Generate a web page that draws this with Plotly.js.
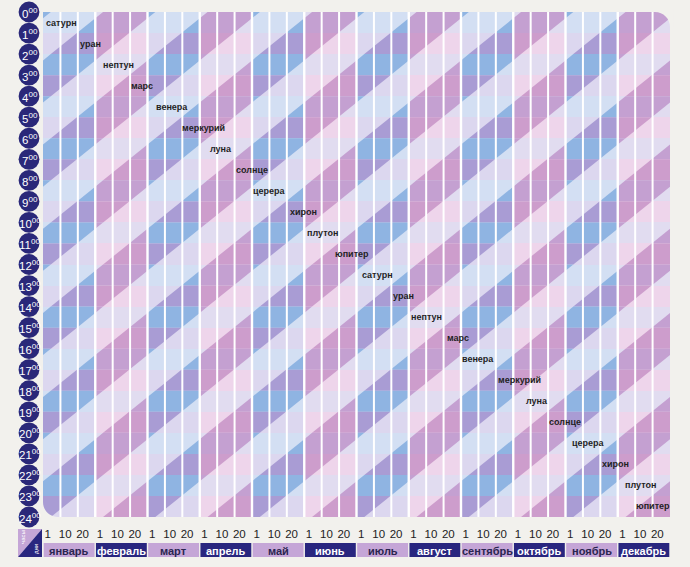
<!DOCTYPE html>
<html><head><meta charset="utf-8">
<script src="https://cdn.plot.ly/plotly-3.0.1.min.js"></script>
<style>html,body{margin:0;padding:0;background:#f2f1ed;}#chart{width:690px;height:567px;}</style>
</head><body><div id="chart"></div>
<script>
// ---- data ----
const months = ['январь','февраль','март','апрель','май','июнь','июль','август','сентябрь','октябрь','ноябрь','декабрь'];
const decadeLabels = ['1','10','20'];
const hours = [0,1,2,3,4,5,6,7,8,9,10,11,12,13,14,15,16,17,18,19,20,21,22,23,24];
const planets = ['сатурн','уран','нептун','марс','венера','меркурий','луна','солнце','церера','хирон','плутон','юпитер',
                 'сатурн','уран','нептун','марс','венера','меркурий','луна','солнце','церера','хирон','плутон','юпитер'];
const planetRow = [0,1,2,3,4,5,6,7,8,9,10,11,12,13,14,15,16,17,18,19,20,21,22,23];
const planetCol = [1.07,2.73,4.35,5.68,7.42,9.24,10.22,12.01,13.03,14.93,16.03,17.72,
                   19.20,20.69,22.04,23.82,24.97,27.38,28.36,29.97,31.34,32.89,34.33,35.01];
// hour at the start of each month where a dark diagonal band begins, and its rise per month
const darkStart = [2.3,0.3,2.3,0.3,2.3,0.3,2.3,0.3,2.3,0.3,2.3,0.3];
const bandRise = 2;
// palettes: [even-row light, odd-row light, even-row dark, odd-row dark]
const bluePalette = ['#d3dff3','#dcd7ef','#8fb4e2','#a99cd4'];
const pinkPalette = ['#e1dcf0','#eed5eb','#c4a0d1','#cd9dcc'];
const barLight = '#c5a6d7', barDark = '#29267f', navy = '#2a2879', bg = '#f2f1ed';

// ---- build ----
const nCol = months.length*3, nRow = hours.length-1;
const W=627, H=505, plotTop=12;
const px2x = px => (px-43)/W, py2y = py => (plotTop+H-py)/H;
const xs = [], ys = [], z = [];
for (let c=0;c<nCol;c++) xs.push(c+0.5);
for (let r=0;r<nRow;r++){ ys.push(r+0.5); const row=[]; for(let c=0;c<nCol;c++){ const m=Math.floor(c/3); row.push((m%2)*2 + (r%2)); } z.push(row); }
const cs = [[0,bluePalette[0]],[1/3,bluePalette[1]],[2/3,pinkPalette[0]],[1,pinkPalette[1]]];

function clip(poly,f){const out=[];for(let i=0;i<poly.length;i++){const a=poly[i],b=poly[(i+1)%poly.length];const fa=f(a),fb=f(b);if(fa>=0)out.push(a);if((fa>=0)!==(fb>=0)){const t=fa/(fa-fb);out.push([a[0]+t*(b[0]-a[0]),a[1]+t*(b[1]-a[1])]);}}return out;}

const shapes = [];
for (let m=0;m<months.length;m++){
  const pal = (m%2===0)?bluePalette:pinkPalette;
  const ds = darkStart[m];
  for (let r=0;r<nRow;r++){
    const col = pal[2 + (r%2)];
    const sv = p => p[1] + bandRise*(p[0]-3*m)/3 - ds;
    const lo = r - ds, hi = r + 1 + bandRise - ds;
    for (let j=Math.floor(lo/4)-1;j<=Math.ceil(hi/4)+1;j++){
      let poly = [[3*m,r],[3*m+3,r],[3*m+3,r+1],[3*m,r+1]];
      poly = clip(poly,p=>sv(p)-4*j);
      if(poly.length<3) continue;
      poly = clip(poly,p=>4*j+2-sv(p));
      if(poly.length<3) continue;
      const path = 'M'+poly.map(p=>p[0].toFixed(4)+','+p[1].toFixed(4)).join('L')+'Z';
      shapes.push({type:'path',xref:'x',yref:'y',path:path,fillcolor:col,line:{width:0},layer:'above'});
    }
  }
}
for (let c=1;c<nCol;c++){
  shapes.push({type:'line',xref:'x',yref:'y',x0:c,x1:c,y0:0,y1:nRow,line:{color:'#ffffff',width:(c%3===0)?2.4:2},layer:'above'});
}
// rounded corners (mask with page colour)
const rad=15,k=0.5523, rx=rad/W, ry=rad/H;
shapes.push({type:'path',xref:'paper',yref:'paper',fillcolor:bg,line:{width:0},layer:'above',
  path:`M1.005,1.005L1.005,${1-ry}L1,${1-ry}C1,${1-ry+k*ry} ${1-rx+k*rx},1 ${1-rx},1L${1-rx},1.005Z`});
shapes.push({type:'path',xref:'paper',yref:'paper',fillcolor:bg,line:{width:0},layer:'above',
  path:`M-0.005,-0.005L-0.005,${ry}L0,${ry}C0,${ry-k*ry} ${rx-k*rx},0 ${rx},0L${rx},-0.005Z`});

const annotations = [];
// hour circles
const rowPx = H/nRow, cr = 10.4;
hours.forEach(h=>{
  const cy = plotTop + h*rowPx;
  shapes.push({type:'circle',xref:'paper',yref:'paper',x0:px2x(29-cr),x1:px2x(29+cr),y0:py2y(cy+cr),y1:py2y(cy-cr),
    fillcolor:navy,line:{width:0},layer:'above'});
  annotations.push({xref:'paper',yref:'paper',x:px2x(29.5),y:py2y(cy+0.5),xanchor:'center',yanchor:'middle',showarrow:false,
    text:h+'<sup>00</sup>',font:{family:'Liberation Sans, Arial, sans-serif',size:11.5,color:'#ffffff'}});
});
// planet labels
planets.forEach((p,i)=>{
  annotations.push({xref:'x',yref:'y',x:planetCol[i],y:planetRow[i]+0.5,xanchor:'center',yanchor:'middle',showarrow:false,
    text:p,font:{family:'Liberation Sans, Arial, sans-serif',size:9,weight:'bold',color:'#1f1f1f'}});
});
// month bars
months.forEach((name,m)=>{
  const dark = m%2===1;
  shapes.push({type:'rect',xref:'x',yref:'paper',x0:3*m+0.04,x1:3*m+2.96,y0:py2y(557),y1:py2y(543),fillcolor:dark?barDark:barLight,line:{width:0},layer:'above'});
  annotations.push({xref:'x',yref:'paper',x:3*m+1.5,y:py2y(550.5),xanchor:'center',yanchor:'middle',text:name,showarrow:false,
    font:{family:'Liberation Sans, Arial, sans-serif',size:11,weight:'bold',color:dark?'#ffffff':'#2a2550'}});
});
// corner icon
shapes.push({type:'path',xref:'paper',yref:'paper',fillcolor:barLight,line:{width:0},layer:'above',
  path:`M${px2x(18)},${py2y(529)}L${px2x(42)},${py2y(529)}L${px2x(18)},${py2y(557)}Z`});
shapes.push({type:'path',xref:'paper',yref:'paper',fillcolor:barDark,line:{width:0},layer:'above',
  path:`M${px2x(42)},${py2y(529)}L${px2x(42)},${py2y(557)}L${px2x(18)},${py2y(557)}Z`});
annotations.push({xref:'paper',yref:'paper',x:px2x(23),y:py2y(537),xanchor:'center',yanchor:'middle',text:'часы',textangle:-90,showarrow:false,font:{family:'Liberation Sans, Arial',size:6,color:'#ffffff'}});
annotations.push({xref:'paper',yref:'paper',x:px2x(36),y:py2y(549),xanchor:'center',yanchor:'middle',text:'дни',textangle:-90,showarrow:false,font:{family:'Liberation Sans, Arial',size:6,color:'#ffffff'}});

const tickvals=[], ticktext=[];
for (let c=0;c<nCol;c++){ tickvals.push(c+0.27); ticktext.push(decadeLabels[c%3]); }

const traces = [
  {type:'heatmap',x:xs,y:ys,z:z,zmin:0,zmax:3,colorscale:cs,showscale:false,hoverinfo:'skip'}
];
const layout = {
  width:690,height:567,margin:{l:43,r:20,t:plotTop,b:567-plotTop-H},paper_bgcolor:bg,plot_bgcolor:bg,showlegend:false,
  xaxis:{range:[0,nCol],showgrid:false,zeroline:false,showline:false,ticks:'',tickvals:tickvals,ticktext:ticktext,
    tickfont:{family:'Liberation Sans, Arial, sans-serif',size:11.5,color:'#222222'},ticklabelstandoff:8,fixedrange:true},
  yaxis:{range:[nRow,0],showgrid:false,zeroline:false,showline:false,showticklabels:false,ticks:'',fixedrange:true},
  shapes:shapes,annotations:annotations
};
Plotly.newPlot('chart',traces,layout,{staticPlot:true,displayModeBar:false});
</script></body></html>
